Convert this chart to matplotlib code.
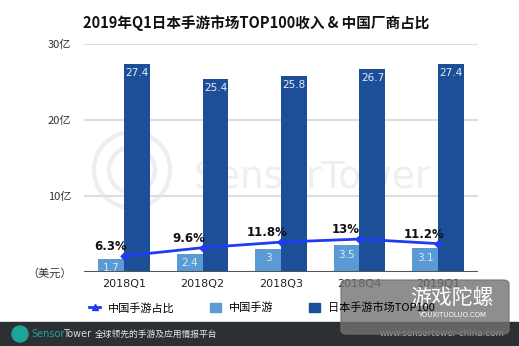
import matplotlib
matplotlib.use("Agg")
import matplotlib.pyplot as plt
from matplotlib.patches import Rectangle, FancyBboxPatch, Circle
from matplotlib.lines import Line2D
from matplotlib.transforms import IdentityTransform
import numpy as np

plt.rcParams['font.family'] = ['Noto Sans CJK SC', 'DejaVu Sans']

quarters = ["2018Q1", "2018Q2", "2018Q3", "2018Q4", "2019Q1"]
china_rev = [1.7, 2.4, 3, 3.5, 3.1]
japan_rev = [27.4, 25.4, 25.8, 26.7, 27.4]
china_share = [6.3, 9.6, 11.8, 13, 11.2]
share_labels = ["6.3%", "9.6%", "11.8%", "13%", "11.2%"]
ytick_vals = [0, 10, 20, 30]
ytick_labels = ["（美元）", "10亿", "20亿", "30亿"]

light = "#5b9bd5"
dark = "#1c4f97"
lineblue = "#1f3cf2"

fig = plt.figure(figsize=(5.19, 3.46), dpi=100)
ax = fig.add_axes([84/519, 74/346, 394/519, 228/346])
ax.set_facecolor("none")
x = np.arange(len(quarters))
w = 0.33

# faint watermark behind the bars
ax.text(0.58, 0.41, "SensorTower", fontsize=27, color="#efefef",
        ha="center", va="center", family="DejaVu Sans", zorder=0.5,
        transform=ax.transAxes)
for r in [38, 23]:
    fig.patches.append(Circle((132, 176), r, transform=IdentityTransform(),
                              fill=False, ec="#eeeeee", lw=3, zorder=-1))

b1 = ax.bar(x - w/2, china_rev, w, color=light, zorder=2)
b2 = ax.bar(x + w/2, japan_rev, w, color=dark, zorder=2)
for i in range(len(x)):
    ax.annotate(f"{china_rev[i]:g}", (x[i] - w/2, china_rev[i]), xytext=(0, -3),
                textcoords="offset points", ha="center", va="top",
                fontsize=7.5, color="#dde9f6", family="DejaVu Sans", zorder=3)
    ax.annotate(f"{japan_rev[i]:g}", (x[i] + w/2, japan_rev[i]), xytext=(0, -3),
                textcoords="offset points", ha="center", va="top",
                fontsize=7.5, color="#e8eef8", family="DejaVu Sans", zorder=3)

ax.set_xlim(-0.51, 4.51)
ax.set_ylim(0, 30)
ax.set_yticks(ytick_vals)
ax.set_yticklabels(ytick_labels, fontsize=8, color="#333333")
ax.set_xticks(x)
ax.set_xticklabels(quarters, fontsize=8, color="#222222", family="DejaVu Sans")
ax.tick_params(length=0, pad=5)
ax.tick_params(axis="y", pad=9)
for s in ax.spines.values():
    s.set_visible(False)
for v in ytick_vals[1:]:
    ax.axhline(v, color="#dddddd", lw=1.5, zorder=1)
ax.axhline(0, color="#555555", lw=1.5, zorder=4)

ax2 = ax.twinx()
ax2.set_ylim(0, 90)
ax2.set_yticks([])
for s in ax2.spines.values():
    s.set_visible(False)
ax2.plot(x, china_share, color=lineblue, lw=2, marker="D", markersize=3.5, zorder=5)
for i in range(len(x)):
    ax2.annotate(share_labels[i], (x[i], china_share[i]), xytext=(-10, 2),
                 textcoords="offset points", ha="center", va="bottom",
                 fontsize=8.5, fontweight="bold", color="#111111", family="DejaVu Sans")

fig.text(0.493, 0.933, "2019年Q1日本手游市场TOP100收入 & 中国厂商占比",
         ha="center", va="center", fontsize=10.5, fontweight="bold", color="#111111")

handles = [Line2D([], [], color=lineblue, lw=2, marker="^", markersize=4),
           Rectangle((0, 0), 1, 1, color=light),
           Rectangle((0, 0), 1, 1, color=dark)]
fig.legend(handles, ["中国手游占比", "中国手游", "日本手游市场TOP100"],
           loc="center", bbox_to_anchor=(0.505, 0.11), ncol=3, frameon=False,
           fontsize=8, handlelength=1.0, handleheight=0.8, columnspacing=3.2,
           handletextpad=0.7)

# footer
fig.patches.append(Rectangle((0, 0), 1, 24/346, transform=fig.transFigure,
                             color="#2d3033", zorder=1))
fig.patches.append(Circle((20, 12), 8, transform=IdentityTransform(),
                          color="#1ea59a", zorder=2))
t1 = fig.text(31/519, 12/346, "Sensor", color="#1ea59a", fontsize=7, va="center",
              family="DejaVu Sans", zorder=3)
fig.canvas.draw()
ext = t1.get_window_extent()
fig.text((ext.x1 - 1) / 519, 12/346, "Tower", color="#d8d8d8", fontsize=7, va="center",
         family="DejaVu Sans", zorder=3)
fig.text(95/519, 12/346, "全球领先的手游及应用情报平台", color="#e8e8e8", fontsize=6.3,
         va="center", zorder=3)
fig.text(505/519, 12/346, "www.sensortower-china.com", color="#bbbbbb", fontsize=6.3,
         va="center", ha="right", family="DejaVu Sans", zorder=3)

# watermark box
fig.patches.append(FancyBboxPatch((341/519, 12/346), 168/519, 54/346,
                                  boxstyle="round,pad=0,rounding_size=0.012",
                                  transform=fig.transFigure, color="#727272",
                                  alpha=0.8, zorder=4))
fig.text(452/519, 48/346, "游戏陀螺", color="white", fontsize=15, ha="center",
         va="center", zorder=5)
fig.text(452/519, 31/346, "YOUXITUOLUO.COM", color="white", fontsize=5, ha="center",
         va="center", family="DejaVu Sans", zorder=5)

fig.savefig("out.png", dpi=100)
